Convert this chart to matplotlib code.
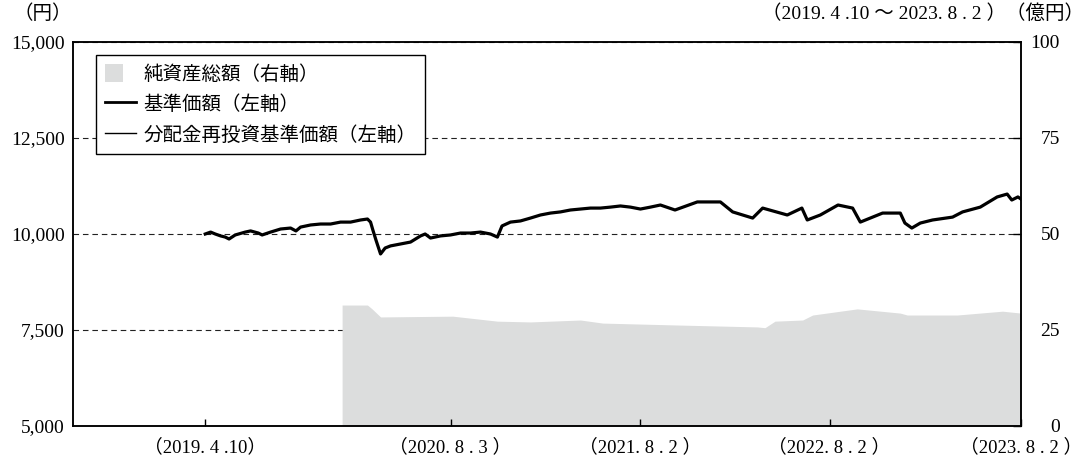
import matplotlib
matplotlib.use('Agg')
import matplotlib.pyplot as plt
from matplotlib.patches import Patch, Rectangle
from matplotlib.lines import Line2D
from matplotlib.legend_handler import HandlerPatch
from matplotlib.ticker import FuncFormatter

plt.rcParams['font.family'] = ['Liberation Serif', 'Noto Sans CJK JP']

# x positions are business-day counts from 2019.4.10
nav_x = [0, 7, 13, 20, 26, 31, 39, 52, 59, 69, 74, 85, 98, 111, 118, 124, 137, 150,
         163, 176, 189, 202, 211, 215, 218, 222, 228, 234, 241, 254, 267, 280, 286,
         293, 306, 319, 332, 345, 358, 371, 380, 386, 397, 410, 423, 436, 449, 462,
         475, 488, 501, 514, 527, 540, 553, 566, 579, 592, 611, 640, 670, 686, 712,
         725, 757, 776, 783, 800, 823, 842, 852, 881, 904, 910, 919, 930, 946, 972,
         985, 1008, 1030, 1043, 1049, 1057, 1061]
nav = [10000, 10050, 10000, 9950, 9920, 9870, 9975, 10050, 10080, 10025, 9975, 10050,
       10130, 10155, 10080, 10180, 10235, 10260, 10260, 10310, 10310, 10365, 10390,
       10310, 10105, 9845, 9480, 9635, 9690, 9740, 9790, 9950, 10000, 9895, 9950,
       9975, 10025, 10025, 10050, 10000, 9920, 10210, 10310, 10340, 10415, 10495,
       10545, 10575, 10625, 10650, 10675, 10675, 10700, 10730, 10700, 10650, 10700,
       10755, 10625, 10835, 10835, 10575, 10415, 10675, 10495, 10675, 10365, 10495,
       10755, 10675, 10310, 10545, 10545, 10285, 10155, 10285, 10365, 10440, 10575,
       10700, 10965, 11040, 10885, 10965, 10910]
# no distributions paid, so the reinvested NAV is the same series
nav_reinvest = nav

assets_x = [178, 211, 217, 228, 322, 380, 423, 488, 517, 614, 718, 728, 741, 777,
            790, 848, 904, 913, 978, 1037, 1061]
assets = [31.5, 31.5, 30.5, 28.4, 28.6, 27.3, 27.1, 27.6, 26.8, 26.3, 25.8, 25.6,
          27.3, 27.6, 28.9, 30.5, 29.4, 28.9, 28.9, 29.9, 29.4]

tick_x = [0, 319, 566, 812, 1061]
tick_labels = ['（2019. 4 .10）', '（2020. 8 . 3 ）', '（2021. 8 . 2 ）',
               '（2022. 8 . 2 ）', '（2023. 8 . 2 ）']
left_ticks = [5000, 7500, 10000, 12500, 15000]
right_ticks = [0, 25, 50, 75, 100]


def square_patch(legend, orig_handle, xdescent, ydescent, width, height, fontsize):
    return Rectangle((-xdescent, -ydescent), height, height)


W, H = 1086, 459
fig = plt.figure(figsize=(W / 100, H / 100), dpi=100)
ax = fig.add_axes([73 / W, 1 - 426 / H, (1021 - 73) / W, (426 - 42) / H])
ax2 = ax.twinx()
ax.set_zorder(ax2.get_zorder() + 1)
ax.patch.set_visible(False)

# net assets on right axis, behind everything
ax2.fill_between(assets_x, 0, assets, color='#dcdddd', linewidth=0, zorder=2)
ax2.set_ylim(0, 100)
ax2.set_yticks(right_ticks)
ax2.set_axisbelow(True)
ax2.grid(axis='y', color='#222222', linestyle=(0, (5, 3.5)), linewidth=0.8, zorder=1)

ax.plot(nav_x, nav, color='black', linewidth=2.3)
ax.plot(nav_x, nav_reinvest, color='black', linewidth=0.8)
ax.set_ylim(5000, 15000)
ax.set_yticks(left_ticks)
ax.yaxis.set_major_formatter(FuncFormatter(lambda v, p: f'{int(v):,}'))
ax.set_xlim(-172, 1061)
ax.set_xticks(tick_x)
ax.set_xticklabels(tick_labels)

for a in (ax, ax2):
    for s in a.spines.values():
        s.set_linewidth(1.1)
ax.tick_params(axis='x', direction='in', length=5, width=1, labelsize=13.5, pad=9)
ax.tick_params(axis='y', direction='in', length=0, labelsize=14, pad=6)
ax2.tick_params(axis='y', direction='in', length=6, width=1, labelsize=14, pad=28)
for lab in ax2.get_yticklabels():
    lab.set_horizontalalignment('right')

handles = [Patch(facecolor='#dcdddd', edgecolor='none'),
           Line2D([], [], color='black', linewidth=2),
           Line2D([], [], color='black', linewidth=1)]
labels = ['純資産総額（右軸）', '基準価額（左軸）', '分配金再投資基準価額（左軸）']
leg = ax.legend(handles, labels, loc='upper left', bbox_to_anchor=(23 / 948, 1 - 13 / 384),
                fontsize=14, frameon=True, fancybox=False, framealpha=1,
                edgecolor='black', handlelength=1.6, handleheight=1.1,
                handletextpad=0.4, labelspacing=0.55, borderpad=0.45, borderaxespad=0,
                handler_map={Patch: HandlerPatch(patch_func=square_patch)})
leg.get_frame().set_linewidth(1)

fig.text(43 / W, 1 - 14 / H, '（円）', ha='center', va='center', fontsize=14)
fig.text(1084 / W, 1 - 14 / H, '（2019. 4 .10 ～ 2023. 8 . 2 ）（億円）',
         ha='right', va='center', fontsize=14)

fig.savefig('out.png', dpi=100)
